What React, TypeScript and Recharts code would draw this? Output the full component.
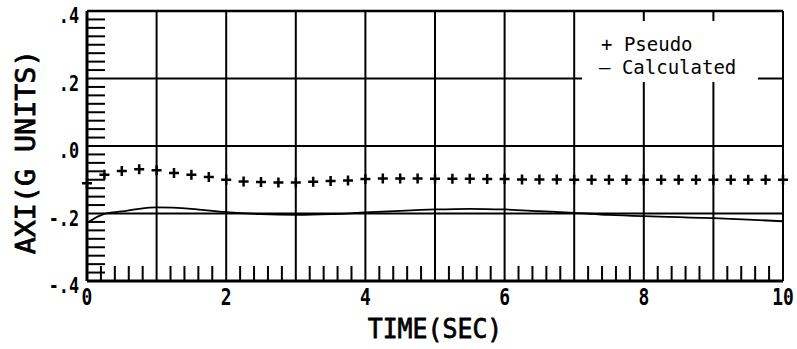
import { LineChart, Line, XAxis, YAxis, ReferenceLine, Label } from "recharts"

// pseudo samples, every quarter second
const PSEUDO_TIME = [
  0, 0.25, 0.5, 0.75, 1, 1.25, 1.5, 1.75, 2, 2.25, 2.5, 2.75, 3, 3.25, 3.5, 3.75, 4, 4.25, 4.5, 4.75, 5,
  5.25, 5.5, 5.75, 6, 6.25, 6.5, 6.75, 7, 7.25, 7.5, 7.75, 8, 8.25, 8.5, 8.75, 9, 9.25, 9.5, 9.75, 10,
]
const PSEUDO_AXI = [
  -0.11, -0.085, -0.074, -0.069, -0.072, -0.08, -0.085, -0.092, -0.1, -0.105, -0.107, -0.108, -0.108,
  -0.106, -0.104, -0.102, -0.098, -0.096, -0.096, -0.096, -0.097, -0.097, -0.097, -0.098, -0.098,
  -0.099, -0.099, -0.099, -0.1, -0.1, -0.1, -0.1, -0.1, -0.1, -0.1, -0.1, -0.1, -0.1, -0.1, -0.1, -0.1,
]

const CALC_TIME = [0, 0.25, 0.5, 0.75, 1, 1.5, 2, 2.5, 3, 3.5, 4, 4.5, 5, 5.5, 6, 6.5, 7, 7.5, 8, 8.5, 9, 9.5, 10]
const CALC_AXI = [
  -0.228, -0.201, -0.194, -0.186, -0.182, -0.186, -0.196, -0.202, -0.204, -0.202, -0.197, -0.192,
  -0.188, -0.186, -0.188, -0.193, -0.198, -0.204, -0.208, -0.211, -0.214, -0.218, -0.223,
]

const X_TICKS = [0, 2, 4, 6, 8, 10]
const Y_TICKS = [-0.4, -0.2, 0, 0.2, 0.4]
const GRID_X = [1, 2, 3, 4, 5, 6, 7, 8, 9]
const GRID_Y = [-0.2, 0, 0.2]
const X_MINOR = [
  0.2, 0.4, 0.6, 0.8, 1.2, 1.4, 1.6, 1.8, 2.2, 2.4, 2.6, 2.8, 3.2, 3.4, 3.6, 3.8, 4.2, 4.4, 4.6, 4.8,
  5.2, 5.4, 5.6, 5.8, 6.2, 6.4, 6.6, 6.8, 7.2, 7.4, 7.6, 7.8, 8.2, 8.4, 8.6, 8.8, 9.2, 9.4, 9.6, 9.8,
]
const Y_MINOR = [
  -0.375, -0.35, -0.325, -0.3, -0.275, -0.25, -0.225, -0.175, -0.15, -0.125, -0.1, -0.075, -0.05, -0.025,
  0.025, 0.05, 0.075, 0.1, 0.125, 0.15, 0.175, 0.225, 0.25, 0.275, 0.3, 0.325, 0.35, 0.375,
]

const pseudoData = PSEUDO_TIME.map((t, i) => ({ t, v: PSEUDO_AXI[i] }))
const calcData = CALC_TIME.map((t, i) => ({ t, v: CALC_AXI[i] }))

const FONT = "'DejaVu Sans Mono', monospace"
const INK = "#000"

const fmtY = (v: number) => (v === 0 ? ".0" : `${v < 0 ? "-" : ""}.${Math.round(Math.abs(v) * 10)}`)

// minor values get an inward tick mark, major ones a label
function YTick({ x, y, payload }: any) {
  if (!Y_TICKS.includes(payload.value)) {
    return <line x1={x} y1={y} x2={x + 18} y2={y} stroke={INK} strokeWidth={2} />
  }
  return (
    <text
      transform={`translate(${x - 8},${y + 12}) scale(0.8,1)`}
      textAnchor="end"
      fontFamily={FONT}
      fontSize={21}
      fontWeight="bold"
      fill={INK}
    >
      {fmtY(payload.value)}
    </text>
  )
}

function XTick({ x, y, payload }: any) {
  if (!X_TICKS.includes(payload.value)) {
    return <line x1={x} y1={y} x2={x} y2={y - 15} stroke={INK} strokeWidth={2} />
  }
  return (
    <text
      transform={`translate(${x},${y + 24}) scale(0.78,1)`}
      textAnchor="middle"
      fontFamily={FONT}
      fontSize={23}
      fontWeight="bold"
      fill={INK}
    >
      {payload.value}
    </text>
  )
}

function Plus({ cx, cy, index }: any) {
  return (
    <path
      key={`p${index}`}
      d={`M${cx - 5},${cy}h10M${cx},${cy - 5}v10`}
      stroke={INK}
      strokeWidth={2.5}
      fill="none"
    />
  )
}

export default function App() {
  return (
    <div style={{ position: "absolute", left: 0, top: 0, width: 797, height: 349, background: "#fff" }}>
      <LineChart width={797} height={349} margin={{ top: 11, right: 14, bottom: 0, left: 0 }}>
        <XAxis
          dataKey="t"
          type="number"
          domain={[0, 10]}
          ticks={[...X_TICKS, ...X_MINOR]}
          interval={0}
          height={68}
          tickLine={false}
          axisLine={false}
          tickSize={0}
          tickMargin={0}
          tick={<XTick />}
        >
          <Label
            content={({ viewBox }: any) => (
              <text
                transform={`translate(${viewBox.x + viewBox.width / 2},${viewBox.y + 57}) scale(0.92,1)`}
                textAnchor="middle"
                fontFamily={FONT}
                fontSize={27}
                fill={INK}
                stroke={INK}
                strokeWidth={0.8}
              >
                TIME(SEC)
              </text>
            )}
          />
        </XAxis>
        <YAxis
          type="number"
          domain={[-0.4, 0.4]}
          ticks={[...Y_TICKS, ...Y_MINOR]}
          interval={0}
          width={87}
          tickLine={false}
          axisLine={false}
          tickSize={0}
          tickMargin={0}
          tick={<YTick />}
        >
          <Label
            content={({ viewBox }: any) => {
              const cy = viewBox.y + viewBox.height / 2 + 6
              return (
                <text
                  transform={`translate(35,${cy}) rotate(-90) scale(1.05,1)`}
                  textAnchor="middle"
                  fontFamily={FONT}
                  fontSize={27}
                  fill={INK}
                  stroke={INK}
                  strokeWidth={0.8}
                >
                  AXI(G UNITS)
                </text>
              )
            }}
          />
        </YAxis>
        {GRID_X.map((x) => (
          <ReferenceLine key={`gx${x}`} x={x} stroke={INK} strokeWidth={2} />
        ))}
        {GRID_Y.map((y) => (
          <ReferenceLine key={`gy${y}`} y={y} stroke={INK} strokeWidth={1.8} />
        ))}
        <ReferenceLine x={0} stroke={INK} strokeWidth={3} />
        <ReferenceLine x={10} stroke={INK} strokeWidth={2} />
        <ReferenceLine y={0.4} stroke={INK} strokeWidth={2.5} />
        <ReferenceLine y={-0.4} stroke={INK} strokeWidth={3} />
        <Line
          data={calcData}
          dataKey="v"
          type="monotone"
          stroke={INK}
          strokeWidth={1.8}
          dot={false}
          activeDot={false}
          isAnimationActive={false}
        />
        <Line
          data={pseudoData}
          dataKey="v"
          stroke="none"
          dot={<Plus />}
          activeDot={false}
          isAnimationActive={false}
        />
      </LineChart>
      <div style={{ position: "absolute", left: 582, top: 21, width: 176, height: 61, background: "#fff" }}>
        <svg width={176} height={61}>
          <text x={19} y={30} fontFamily={FONT} fontSize={19} fill={INK}>
            + Pseudo
          </text>
          <text x={17} y={53} fontFamily={FONT} fontSize={19} fill={INK}>
            — Calculated
          </text>
        </svg>
      </div>
    </div>
  )
}
